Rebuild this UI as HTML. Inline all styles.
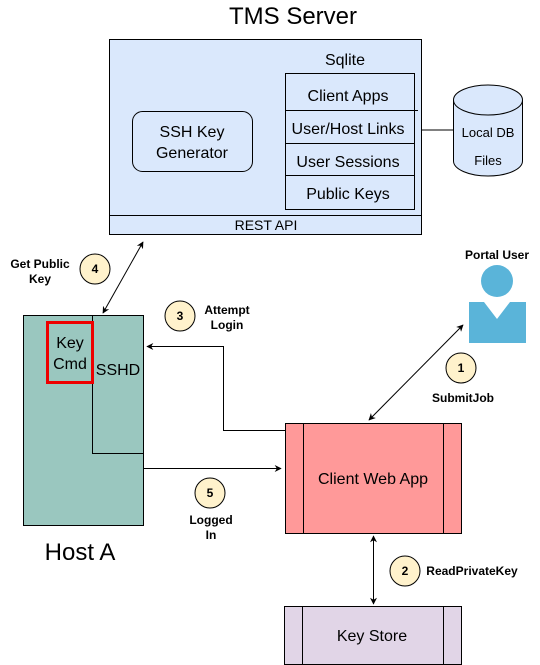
<!DOCTYPE html>
<html><head><meta charset="utf-8"><style>
html,body{margin:0;padding:0;background:#fff;width:540px;height:665px;overflow:hidden}
svg{display:block;font-family:"Liberation Sans",sans-serif}
</style></head><body>
<svg width="540" height="665" viewBox="0 0 540 665" xmlns="http://www.w3.org/2000/svg">
<defs>
<marker id="a" viewBox="0 0 10 10" refX="9" refY="5" markerWidth="7" markerHeight="7" orient="auto-start-reverse"><path d="M0,0 L10,5 L0,10 L3,5 z" fill="#000"/></marker>
</defs>
<text x="293" y="24" font-size="24" text-anchor="middle">TMS Server</text>
<rect x="109.5" y="39.5" width="312" height="195" fill="#dae8fc" stroke="#000"/>
<line x1="109.5" y1="215.5" x2="421.5" y2="215.5" stroke="#000"/>
<text x="266" y="230" font-size="14" text-anchor="middle">REST API</text>
<text x="345" y="65" font-size="16" text-anchor="middle">Sqlite</text>
<rect x="285.5" y="73.5" width="129" height="136" fill="#dae8fc" stroke="#000"/>
<line x1="285" y1="110.5" x2="418" y2="110.5" stroke="#000"/>
<line x1="285" y1="143.5" x2="414" y2="143.5" stroke="#000"/>
<line x1="285" y1="175.5" x2="415" y2="175.5" stroke="#000"/>
<rect x="132.5" y="111.5" width="120" height="60" rx="10" fill="#dae8fc" stroke="#000"/>
<g font-size="16" text-anchor="middle">
<text x="348" y="101">Client Apps</text>
<text x="348" y="134">User/Host Links</text>
<text x="348" y="167">User Sessions</text>
<text x="348" y="199">Public Keys</text>
<text x="192" y="137">SSH Key</text>
<text x="192" y="158">Generator</text>
</g>
<line x1="421.5" y1="130" x2="453" y2="130" stroke="#000"/>
<path d="M453.5,100 L453.5,161 A34.5,15 0 0 0 522.5,161 L522.5,100 A34.5,15 0 0 0 453.5,100 A34.5,15 0 0 0 522.5,100" fill="#dae8fc" stroke="#000"/>
<text x="488" y="137" font-size="13" text-anchor="middle">Local DB</text>
<text x="488" y="165" font-size="13" text-anchor="middle">Files</text>
<rect x="23.5" y="315.5" width="120" height="210" fill="#9ac7bf" stroke="#000"/>
<polyline points="92.5,315.5 92.5,453.5 143.5,453.5" fill="none" stroke="#000"/>
<rect x="47.5" y="322.5" width="45" height="60" fill="none" stroke="#e00" stroke-width="3"/>
<text x="70" y="348" font-size="16" text-anchor="middle">Key</text>
<text x="70" y="369" font-size="16" text-anchor="middle">Cmd</text>
<text x="118" y="375" font-size="16" text-anchor="middle">SSHD</text>
<text x="80" y="560" font-size="24" text-anchor="middle">Host A</text>
<rect x="285.5" y="423.5" width="176" height="110" fill="#ff9999" stroke="#000"/>
<line x1="303.5" y1="423.5" x2="303.5" y2="533.5" stroke="#000"/>
<line x1="443.5" y1="423.5" x2="443.5" y2="533.5" stroke="#000"/>
<text x="373" y="484" font-size="16" text-anchor="middle">Client Web App</text>
<rect x="284.5" y="606.5" width="177" height="58" fill="#e1d5e7" stroke="#000"/>
<line x1="302.5" y1="606.5" x2="302.5" y2="664.5" stroke="#000"/>
<line x1="443.5" y1="606.5" x2="443.5" y2="664.5" stroke="#000"/>
<text x="372" y="641" font-size="16" text-anchor="middle">Key Store</text>
<text x="497" y="259" font-size="12" font-weight="bold" text-anchor="middle">Portal User</text>
<circle cx="497" cy="281" r="16" fill="#5ab4d9"/>
<path d="M469,302 L484,302 L497,319 L510,302 L526,302 L526,343 L469,343 z" fill="#5ab4d9"/>
<g stroke="#000" fill="none" stroke-width="1">
<line x1="103" y1="313" x2="143" y2="242" marker-start="url(#a)" marker-end="url(#a)"/>
<polyline points="285,430.5 223.5,430.5 223.5,346.5 147,346.5" marker-end="url(#a)"/>
<line x1="143.5" y1="468.5" x2="281" y2="468.5" marker-end="url(#a)"/>
<line x1="369" y1="420" x2="463" y2="325" marker-start="url(#a)" marker-end="url(#a)"/>
<line x1="373.5" y1="536" x2="373.5" y2="604" marker-start="url(#a)" marker-end="url(#a)"/>
</g>
<g fill="#fff2cc" stroke="#000">
<circle cx="95" cy="269" r="15"/><circle cx="180" cy="316" r="15"/>
<circle cx="461" cy="368" r="15"/><circle cx="210" cy="493" r="15"/>
<circle cx="405" cy="571" r="15"/>
</g>
<g font-size="12" font-weight="bold" text-anchor="middle">
<text x="95" y="273">4</text><text x="180" y="320">3</text>
<text x="461" y="372">1</text><text x="210" y="497">5</text>
<text x="405" y="575">2</text>
<text x="40" y="268">Get Public</text><text x="40" y="283">Key</text>
<text x="227" y="314">Attempt</text><text x="227" y="329">Login</text>
<text x="463" y="402">SubmitJob</text>
<text x="211" y="524">Logged</text><text x="211" y="539">In</text>
<text x="472" y="575">ReadPrivateKey</text>
</g>
</svg>
</body></html>
